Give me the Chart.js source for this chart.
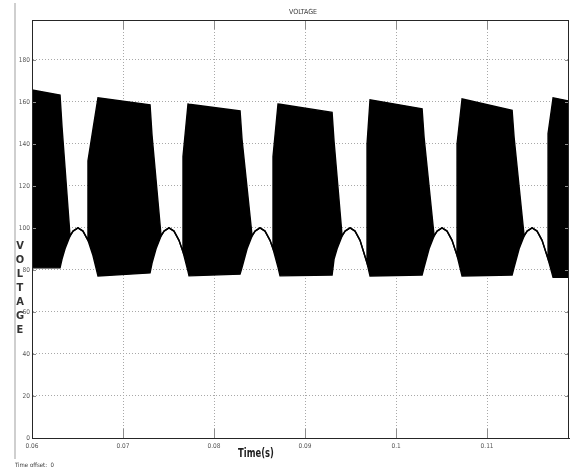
<!DOCTYPE html>
<html>
<head>
<meta charset="utf-8">
<title>VOLTAGE</title>
<script src="https://cdn.jsdelivr.net/npm/chart.js@4.4.1/dist/chart.umd.min.js"></script>
<style>
  html, body { margin: 0; padding: 0; background: #fff; }
</style>
</head>
<body>
<canvas id="voltChart" width="570" height="470"></canvas>
<script>
// scope trace: outline of the switching band (upper/lower envelope),
// both envelopes meet on the rectified-sine hump between the bands
const timeS = [
  0.06000, 0.06308, 0.06330, 0.06363, 0.06418, 0.06451, 0.06505, 0.06560, 0.06615, 0.06615, 0.06670, 0.06725,
  0.07297, 0.07319, 0.07363, 0.07418, 0.07451, 0.07505, 0.07560, 0.07615, 0.07659, 0.07659, 0.07714, 0.07725,
  0.08286, 0.08308, 0.08363, 0.08418, 0.08451, 0.08505, 0.08560, 0.08615, 0.08648, 0.08648, 0.08703, 0.08725,
  0.09297, 0.09319, 0.09352, 0.09407, 0.09440, 0.09495, 0.09549, 0.09604, 0.09681, 0.09681, 0.09714,
  0.10286, 0.10308, 0.10363, 0.10418, 0.10451, 0.10505, 0.10560, 0.10615, 0.10670, 0.10670, 0.10725,
  0.11275, 0.11297, 0.11352, 0.11407, 0.11440, 0.11495, 0.11549, 0.11604, 0.11670, 0.11670, 0.11725, 0.11890
];
const voltUpper = [
  165.7, 163.3, 148.0, 128.6, 96.2, 98.5, 100.0, 98.5, 94.1, 132.0, 147.0, 162.0,
  158.6, 144.0, 122.8, 96.2, 98.5, 100.0, 98.5, 94.1, 88.6, 134.0, 159.0, 158.9,
  155.7, 142.0, 119.1, 96.2, 98.5, 100.0, 98.5, 94.1, 90.1, 134.0, 159.0, 158.9,
  155.0, 141.0, 124.2, 96.2, 98.5, 100.0, 98.5, 94.1, 83.3, 140.0, 161.0,
  156.7, 143.0, 119.6, 96.2, 98.5, 100.0, 98.5, 94.1, 86.9, 140.0, 161.4,
  156.0, 143.0, 119.6, 96.2, 98.5, 100.0, 98.5, 94.1, 85.2, 145.0, 162.0, 160.5
];
const voltLower = [
  81.0, 81.0, 85.2, 90.1, 96.2, 98.5, 100.0, 98.5, 94.1, 94.1, 86.9, 77.1,
  78.6, 83.3, 90.1, 96.2, 98.5, 100.0, 98.5, 94.1, 88.6, 88.6, 79.3, 77.2,
  78.0, 81.3, 90.1, 96.2, 98.5, 100.0, 98.5, 94.1, 90.1, 90.1, 81.3, 77.2,
  77.6, 85.2, 90.1, 96.2, 98.5, 100.0, 98.5, 94.1, 83.3, 83.3, 77.1,
  77.6, 81.3, 90.1, 96.2, 98.5, 100.0, 98.5, 94.1, 86.9, 86.9, 77.1,
  77.6, 81.3, 90.1, 96.2, 98.5, 100.0, 98.5, 94.1, 85.2, 85.2, 76.5, 76.5
];

const xTicks = [0.06, 0.07, 0.08, 0.09, 0.10, 0.11];
const yTicks = [0, 20, 40, 60, 80, 100, 120, 140, 160, 180];
const yLabelLetters = ['V', 'O', 'L', 'T', 'A', 'G', 'E'];

const narrow = '"Liberation Sans Narrow", "DejaVu Sans Condensed", sans-serif';
Chart.defaults.font.family = narrow;

const toPoints = vals => timeS.map((t, i) => ({ x: t, y: vals[i] }));

// frame, inward ticks and the scope texts
const scopeDecor = {
  id: 'scopeDecor',
  afterDraw(chart) {
    const { ctx, chartArea: a, scales: { x, y } } = chart;
    ctx.save();

    // figure edge on the left
    ctx.strokeStyle = '#cfcfcf';
    ctx.lineWidth = 2;
    ctx.beginPath();
    ctx.moveTo(15, 3);
    ctx.lineTo(15, 459);
    ctx.stroke();

    // tick marks pointing into the plot
    ctx.strokeStyle = '#8c8c8c';
    ctx.lineWidth = 1;
    ctx.beginPath();
    x.ticks.forEach(t => {
      const px = Math.round(x.getPixelForValue(t.value)) + 0.5;
      ctx.moveTo(px, a.bottom); ctx.lineTo(px, a.bottom - 9);
      ctx.moveTo(px, a.top); ctx.lineTo(px, a.top + 9);
    });
    y.ticks.forEach(t => {
      const py = Math.round(y.getPixelForValue(t.value)) + 0.5;
      ctx.moveTo(a.left, py); ctx.lineTo(a.left + 4, py);
      ctx.moveTo(a.right, py); ctx.lineTo(a.right - 4, py);
    });
    ctx.stroke();

    // axes box
    ctx.strokeStyle = '#262626';
    ctx.lineWidth = 1;
    ctx.strokeRect(a.left + 0.5, a.top + 0.5, a.right - a.left - 1, a.bottom - a.top);

    // title
    ctx.fillStyle = '#3a3a3a';
    ctx.textAlign = 'center';
    ctx.textBaseline = 'middle';
    ctx.font = '7px ' + narrow;
    ctx.fillText('VOLTAGE', 303, 12);

    // stacked y label
    ctx.fillStyle = '#333';
    ctx.font = 'bold 11px ' + narrow;
    yLabelLetters.forEach((ch, i) => ctx.fillText(ch, 20, 246 + i * 14));

    // x label, squeezed like the scope font
    ctx.save();
    ctx.translate(256, 454);
    ctx.scale(0.78, 1.05);
    ctx.font = 'bold 12px ' + narrow;
    ctx.fillStyle = '#1e1e1e';
    ctx.fillText('Time(s)', 0, 0);
    ctx.restore();

    ctx.textAlign = 'left';
    ctx.font = '6px ' + narrow;
    ctx.fillStyle = '#3a3a3a';
    ctx.fillText('Time offset:  0', 15, 465);

    ctx.restore();
  }
};

const gridStyle = { color: '#a8a8a8', lineWidth: 1, drawTicks: false };
const borderStyle = { color: '#262626', width: 1, dash: [1, 2] };

new Chart(document.getElementById('voltChart').getContext('2d'), {
  type: 'line',
  data: {
    datasets: [
      {
        label: 'upper',
        data: toPoints(voltUpper),
        borderColor: '#000',
        backgroundColor: '#000',
        borderWidth: 1.4,
        pointRadius: 0,
        fill: '+1'
      },
      {
        label: 'lower',
        data: toPoints(voltLower),
        borderColor: '#000',
        borderWidth: 1.4,
        pointRadius: 0,
        fill: false
      }
    ]
  },
  options: {
    responsive: false,
    animation: false,
    layout: { padding: { left: 0, right: 1, top: 20, bottom: 0 } },
    plugins: {
      legend: { display: false },
      tooltip: { enabled: false }
    },
    scales: {
      x: {
        type: 'linear',
        min: 0.06,
        max: 0.119,
        afterBuildTicks: s => { s.ticks = xTicks.map(v => ({ value: v })); },
        afterFit: s => { s.height = 32; },
        ticks: {
          autoSkip: false,
          maxRotation: 0,
          padding: 4,
          color: '#555',
          font: { size: 6.5 },
          callback: v => String(+v.toFixed(3))
        },
        grid: gridStyle,
        border: borderStyle
      },
      y: {
        min: 0,
        max: 199,
        afterBuildTicks: s => { s.ticks = yTicks.map(v => ({ value: v })); },
        afterFit: s => { s.width = 32; },
        ticks: {
          padding: 2,
          color: '#555',
          font: { size: 6.5 }
        },
        grid: gridStyle,
        border: borderStyle
      }
    }
  },
  plugins: [scopeDecor]
});
</script>
</body>
</html>
